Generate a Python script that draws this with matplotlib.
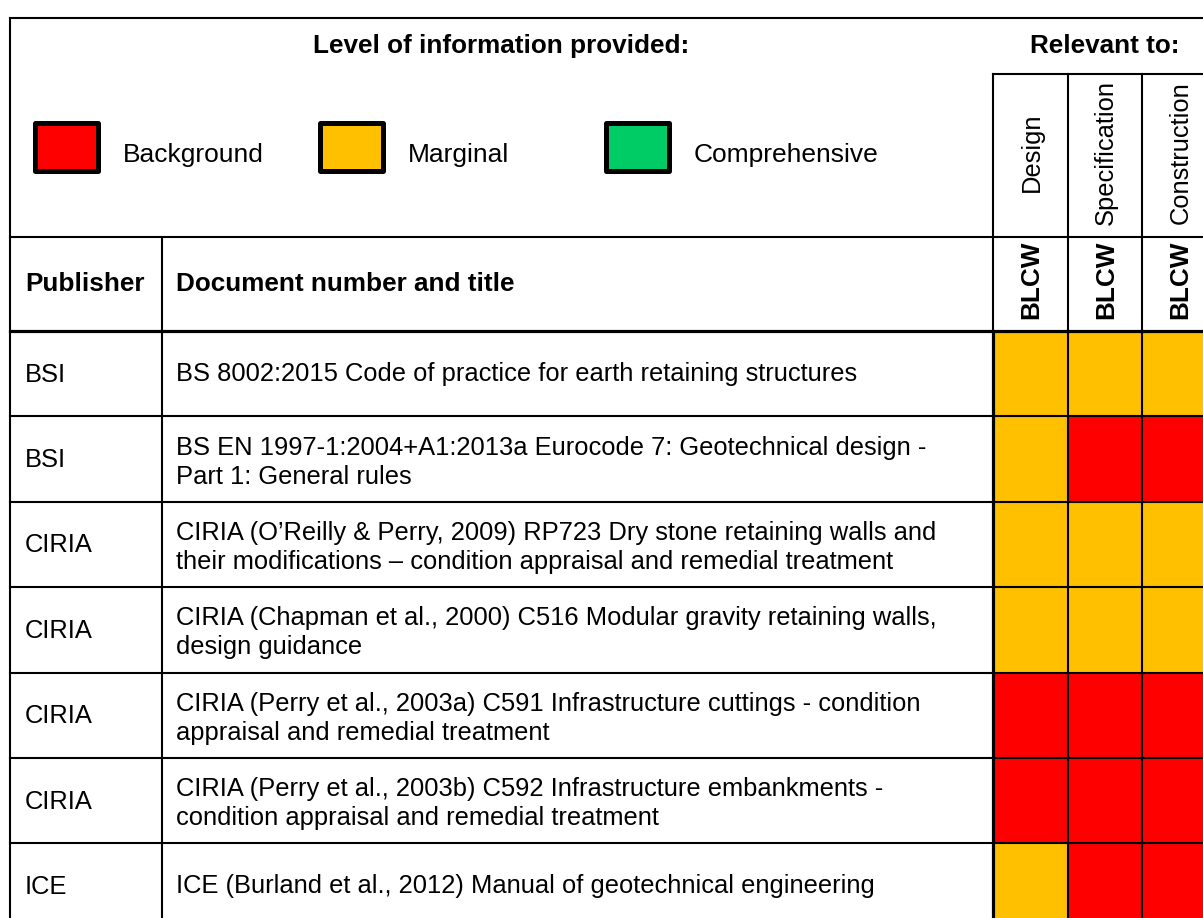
import matplotlib
matplotlib.use('Agg')
import matplotlib.pyplot as plt
from matplotlib.patches import Rectangle

plt.rcParams['font.family'] = ['Liberation Sans', 'DejaVu Sans']

# Table content
publishers = ['BSI', 'BSI', 'CIRIA', 'CIRIA', 'CIRIA', 'CIRIA', 'ICE']
titles = [
    'BS 8002:2015 Code of practice for earth retaining structures',
    'BS EN 1997-1:2004+A1:2013a Eurocode 7: Geotechnical design -\nPart 1: General rules',
    'CIRIA (O\u2019Reilly & Perry, 2009) RP723 Dry stone retaining walls and\n'
    'their modifications \u2013 condition appraisal and remedial treatment',
    'CIRIA (Chapman et al., 2000) C516 Modular gravity retaining walls,\ndesign guidance',
    'CIRIA (Perry et al., 2003a) C591 Infrastructure cuttings - condition\n'
    'appraisal and remedial treatment',
    'CIRIA (Perry et al., 2003b) C592 Infrastructure embankments -\n'
    'condition appraisal and remedial treatment',
    'ICE (Burland et al., 2012) Manual of geotechnical engineering',
]
relevance = ['Design', 'Specification', 'Construction']
# level per row for Design / Specification / Construction
design = ['Marginal', 'Marginal', 'Marginal', 'Marginal', 'Background', 'Background', 'Marginal']
specification = ['Marginal', 'Background', 'Marginal', 'Marginal', 'Background', 'Background', 'Background']
construction = ['Marginal', 'Background', 'Marginal', 'Marginal', 'Background', 'Background', 'Background']
levels = ['Background', 'Marginal', 'Comprehensive']
level_colors = {'Background': '#FF0000', 'Marginal': '#FFC000', 'Comprehensive': '#00CC66'}

W, H = 1203, 918
fig = plt.figure(figsize=(W / 100, H / 100), dpi=100)
ax = fig.add_axes([0, 0, 1, 1])
ax.set_xlim(0, W)
ax.set_ylim(H, 0)
ax.axis('off')

FS = 18.4
FSB = 18.8
thin = 1.5
thick = 2.3

# geometry (pixels)
left, top = 10, 18
right = 1217
col_pub = 162
col_x = [993, 1068, 1142, 1217]
sub_top = 74
head_y = 237
body_top = 331
row_h = 85.4
n = len(publishers)
row_y = [body_top + i * row_h for i in range(n + 1)]

# coloured cells
for i in range(n):
    for j, col in enumerate([design, specification, construction]):
        ax.add_patch(Rectangle((col_x[j], row_y[i]), col_x[j + 1] - col_x[j], row_h,
                               facecolor=level_colors[col[i]], edgecolor='none', zorder=1))

def hline(y, x0, x1, lw=thin):
    ax.plot([x0, x1], [y, y], color='black', lw=lw, solid_capstyle='projecting', zorder=3)

def vline(x, y0, y1, lw=thin):
    ax.plot([x, x], [y0, y1], color='black', lw=lw, solid_capstyle='projecting', zorder=3)

# frame and grid
hline(top, left, right)
vline(left, top, H + 5)
hline(sub_top, col_x[0], right)
hline(head_y, left, right)
hline(body_top, left, right, lw=thick)
for y in row_y[1:]:
    hline(y, left, right)
vline(col_pub, head_y, H + 5)
vline(col_x[0], sub_top, body_top)
vline(col_x[0], body_top, H + 5, lw=thick)
for x in col_x[1:3]:
    vline(x, sub_top, H + 5)

# titles
ax.text(501, 46, 'Level of information provided:', fontsize=FSB, fontweight='bold',
        ha='center', va='center')
ax.text(1105, 46, 'Relevant to:', fontsize=FSB, fontweight='bold', ha='center', va='center')

# legend
box_x = [34.5, 320, 606]
for bx, lev in zip(box_x, levels):
    ax.add_patch(Rectangle((bx, 122.5), 63, 48, facecolor=level_colors[lev],
                           edgecolor='black', lw=3.6, joinstyle='round', zorder=4))
    ax.text(bx + 88, 155, lev, fontsize=19, ha='left', va='center')

# rotated column headers
for j, name in enumerate(relevance):
    cx = (col_x[j] + col_x[j + 1]) / 2 + 1
    ax.text(cx, 152.5, name, fontsize=FS, rotation=90, ha='center', va='center')
    ax.text(cx, 319, 'BLCW', fontsize=FSB, fontweight='bold', rotation=90,
            ha='center', va='bottom')

# column headers
ax.text(25, 284, 'Publisher', fontsize=FSB, fontweight='bold', ha='left', va='center')
ax.text(176, 284, 'Document number and title', fontsize=FSB, fontweight='bold',
        ha='left', va='center')

# rows
for i in range(n):
    cy = (row_y[i] + row_y[i + 1]) / 2
    ax.text(25, cy + 1, publishers[i], fontsize=FS, ha='left', va='center')
    dy = 3 if '\n' in titles[i] else 0
    ax.text(176, cy + dy, titles[i], fontsize=FS, ha='left', va='center', linespacing=1.26)

fig.savefig('out.png', dpi=100)
